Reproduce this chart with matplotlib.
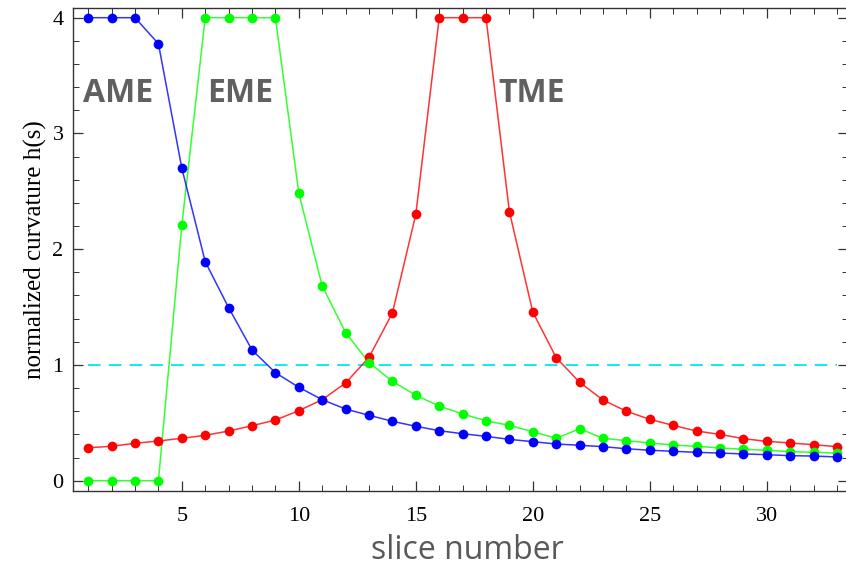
import matplotlib

matplotlib.use("Agg")
import matplotlib.pyplot as plt
from matplotlib.ticker import MultipleLocator

slices = list(range(1, 34))

ame = [4.0, 4.0, 4.0, 3.775, 2.70, 1.892, 1.495, 1.129, 0.933, 0.807, 0.70, 0.619,
       0.565, 0.513, 0.47, 0.432, 0.406, 0.383, 0.357, 0.337, 0.317, 0.306, 0.294,
       0.276, 0.263, 0.254, 0.245, 0.239, 0.231, 0.225, 0.216, 0.213, 0.205]
eme = [0.0, 0.0, 0.0, 0.0, 2.209, 4.0, 4.0, 4.0, 4.0, 2.483, 1.682, 1.279,
       1.02, 0.859, 0.738, 0.645, 0.576, 0.518, 0.478, 0.423, 0.366, 0.449, 0.366,
       0.346, 0.326, 0.308, 0.297, 0.283, 0.271, 0.263, 0.251, 0.245, 0.239]
tme = [0.285, 0.297, 0.323, 0.343, 0.366, 0.392, 0.429, 0.475, 0.524, 0.605, 0.70, 0.844,
       1.066, 1.449, 2.301, 4.0, 4.0, 4.0, 2.324, 1.457, 1.063, 0.85, 0.697,
       0.60, 0.53, 0.478, 0.429, 0.40, 0.363, 0.34, 0.326, 0.311, 0.294]
threshold = 1.0

region_labels = [("AME", 0.012), ("EME", 0.173), ("TME", 0.549)]

fig = plt.figure(figsize=(8.46, 5.70), dpi=100)
ax = fig.add_axes([0.0866, 0.138, 0.916, 0.848])

ax.plot([slices[0], slices[-1]], [threshold, threshold], color="#00e8f0",
        linewidth=1.3, dashes=(7, 4.5), zorder=1)
for values, color in ((tme, "#ff0000"), (eme, "#00ff00"), (ame, "#0000ff")):
    ax.plot(slices, values, color=color, linewidth=1.1, alpha=0.8, zorder=2)
    ax.plot(slices, values, "o", color=color, markersize=7, markeredgewidth=0, zorder=3)

ax.set_xlim(0.36, 33.48)
ax.set_ylim(-0.092, 4.084)
ax.xaxis.set_major_locator(MultipleLocator(5))
ax.xaxis.set_minor_locator(MultipleLocator(1))
ax.yaxis.set_major_locator(MultipleLocator(1))
ax.yaxis.set_minor_locator(MultipleLocator(0.2))
ax.tick_params(which="both", direction="in", top=True, right=True, color="#333333")
ax.tick_params(which="major", length=7, width=0.9)
ax.tick_params(which="minor", length=4, width=0.7)
ax.tick_params(axis="x", which="major", labelsize=16, pad=11)
ax.tick_params(axis="y", which="major", labelsize=16, pad=7)
for label in ax.get_xticklabels() + ax.get_yticklabels():
    label.set_family("Liberation Serif")
for spine in ax.spines.values():
    spine.set_color("#333333")
    spine.set_linewidth(1.0)

ax.set_ylabel("normalized curvature h(s)", family="Liberation Serif", fontsize=18, labelpad=4)
ax.set_xlabel("slice number", family="Open Sans", fontsize=23, color="#595959")
ax.xaxis.set_label_coords(0.509, -0.088)

for text, xpos in region_labels:
    ax.text(xpos, 0.806, text, transform=ax.transAxes, family="Open Sans",
            fontweight="bold", fontsize=23, color="#606060", ha="left", va="baseline")

fig.savefig("out.png", dpi=100)
